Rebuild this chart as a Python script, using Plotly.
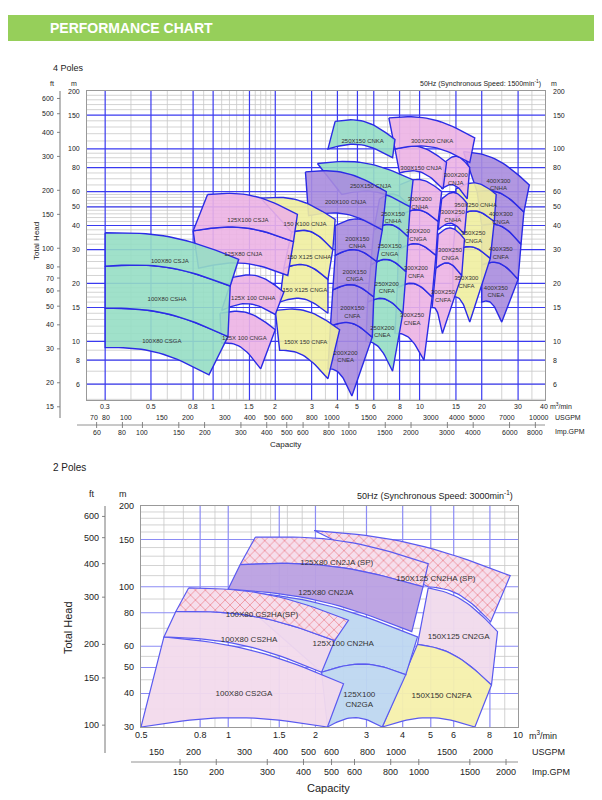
import numpy as np
import plotly.graph_objects as go

W, H = 602, 800
# ---------------- data: 4 poles ----------------
# corners (Q m3/min, H m): top-left, top-right, bottom-right, bottom-left
p4_names = ["100X80 CSJA", "100X80 CSHA", "100X80 CSGA",
            "125X100 CSJA", "125X80 CNJA", "125X 100 CNHA", "125X 100 CNGA",
            "150 X100 CNJA", "150 X125 CNHA", "150 X125 CNGA", "150X 150 CNFA",
            "200X100 CNJA", "200X150<br>CNHA", "200X150<br>CNGA", "200X150<br>CNFA", "200X200<br>CNEA",
            "250X150 CNKA", "250X150 CNJA", "250X150<br>CNHA", "250X150<br>CNGA", "250X200<br>CNFA", "250X200<br>CNEA",
            "300X200 CNKA", "300X150 CNJA", "300X200<br>CNJA", "300X200<br>CNHA", "300X250<br>CNHA",
            "300X200<br>CNGA", "300X250<br>CNGA", "300X200<br>CNFA", "300X250<br>CNFA", "300X250<br>CNEA",
            "350X250 CNHA", "350X250<br>CNGA", "350X300<br>CNFA",
            "400X300<br>CNHA", "400X300<br>CNGA", "400X350<br>CNFA", "400X350<br>CNEA"]
p4_corners = [
    [(0.30, 36.7), (1.33, 26.7), (1.21, 19.4), (0.30, 24.6)],
    [(0.30, 24.6), (1.21, 19.4), (1.18, 10.6), (0.30, 14.9)],
    [(0.30, 14.9), (1.18, 10.6), (0.955, 6.7), (0.30, 9.3)],
    [(0.94, 58), (2.56, 45.7), (2.45, 33), (0.80, 37.5)],
    [(0.80, 37.5), (2.45, 33), (2.3, 22), (0.85, 24)],
    [(1.24, 21.5), (2.2, 18), (2.0, 13.8), (1.1, 14.5)],
    [(1.08, 14.0), (2.0, 11.5), (1.7, 7.2), (1.1, 9.8)],
    [(1.70, 55.5), (3.9, 43), (3.8, 30), (2.4, 37)],
    [(2.4, 37), (3.8, 30), (3.6, 21), (2.2, 24)],
    [(2.2, 24), (3.6, 21), (3.6, 14), (2.1, 16)],
    [(2.0, 14.5), (4.1, 11.5), (3.6, 6.4), (2.1, 9)],
    [(2.8, 76), (6.9, 60), (6.6, 38), (2.9, 45)],
    [(3.9, 40), (6.6, 38), (6.2, 26), (3.9, 28)],
    [(3.9, 28), (6.2, 26), (6.0, 17), (3.8, 18.5)],
    [(3.8, 18.5), (6.0, 17), (5.9, 10.5), (3.7, 12)],
    [(3.7, 12), (5.9, 10.5), (4.7, 5.2), (3.6, 7.2)],
    [(3.9, 139), (7.6, 112), (7.4, 90), (3.6, 100)],
    [(3.2, 84), (9.3, 69), (9.0, 50), (4.2, 58)],
    [(6.4, 55), (9.0, 50), (8.8, 35), (6.0, 38)],
    [(6.0, 38), (8.8, 35), (8.6, 23), (5.8, 25)],
    [(5.8, 25), (8.6, 23), (8.3, 14), (5.6, 16)],
    [(5.6, 16), (8.3, 14), (7.4, 7.0), (5.5, 10)],
    [(7.1, 145), (18.5, 114), (17.5, 85), (7.6, 100)],
    [(7.6, 100), (13.5, 85), (13.0, 62), (8.0, 75)],
    [(13.2, 85), (17.5, 80), (17.0, 55), (12.8, 62)],
    [(8.0, 65), (12.8, 60), (12.3, 42), (8.0, 45)],
    [(12.8, 55), (17.0, 52), (16.5, 36), (12.3, 38)],
    [(8.0, 45), (12.3, 42), (12.0, 28), (7.9, 30)],
    [(12.3, 36), (16.5, 34), (16.0, 22), (12.0, 24)],
    [(7.9, 30), (12.0, 28), (11.5, 17), (7.8, 19)],
    [(12.0, 24), (16.0, 22), (12.9, 11), (11.5, 15)],
    [(7.8, 19), (11.5, 17), (10.5, 8.0), (7.6, 11)],
    [(15.0, 62), (23.5, 58), (23.0, 42), (15.0, 44)],
    [(15.0, 44), (23.0, 42), (22.0, 27), (14.5, 29)],
    [(14.5, 29), (22.0, 27), (17.5, 12.6), (14.5, 17)],
    [(16.3, 97), (34.0, 65), (32.0, 47), (19.0, 60)],
    [(19.0, 60), (32.0, 47), (31.0, 32), (20.0, 40)],
    [(20.0, 40), (31.0, 32), (30.0, 21), (20.0, 25)],
    [(20.0, 25), (30.0, 21), (25.0, 12.6), (20.0, 16)],
]
p4_group = [0]*3 + [1]*4 + [2]*4 + [3]*5 + [0]*6 + [1]*10 + [2]*3 + [3]*4
group_colors = ["rgba(150,222,196,0.9)", "rgba(236,178,228,0.9)",
                "rgba(240,238,160,0.9)", "rgba(168,140,222,0.9)"]

# ---------------- data: 2 poles ----------------
p2_names = ["150X125 CN2HA (SP)", "150X125 CN2GA", "150X150 CN2FA",
            "125X100 CN2HA", "125X100<br>CN2GA", "125X80 CN2JA (SP)", "125X80 CN2JA",
            "100X80 CS2GA", "100X80 CS2HA", "100X80 CS2HA(SP)"]
p2_corners = [
    [(1.98, 162), (9.4, 110), (8.05, 74), (4.9, 100)],
    [(4.9, 99), (8.5, 68), (8.1, 43), (4.5, 61)],
    [(4.5, 61), (8.1, 43), (7.1, 30), (3.4, 30)],
    [(1.0, 97), (4.5, 65), (4.1, 47), (2.1, 48)],
    [(2.1, 48), (4.1, 47), (3.4, 30), (2.2, 30)],
    [(1.24, 153), (4.9, 122), (4.7, 100), (1.1, 121)],
    [(1.1, 121), (4.7, 100), (4.3, 68), (1.0, 98)],
    [(0.60, 65), (2.5, 43.5), (2.2, 30), (0.5, 30)],
    [(0.66, 81), (2.33, 63), (2.1, 48), (0.60, 65)],
    [(0.73, 99), (2.6, 75), (2.33, 63), (0.66, 81)],
]
p2_colors = ["rgba(246,222,236,1)", "rgba(240,218,236,0.95)", "rgba(246,240,172,0.95)",
             "rgba(190,215,240,0.95)", "rgba(190,215,240,0.95)", "rgba(246,222,236,1)",
             "rgba(186,160,226,0.95)", "rgba(242,218,236,0.95)", "rgba(242,218,236,0.95)",
             "rgba(246,222,236,1)"]
p2_hatched = [True, False, False, False, False, True, False, False, False, True]

# axis tick labels
m4 = [200, 150, 100, 80, 60, 50, 40, 30, 20, 15, 10, 8, 6]
ft4 = [600, 500, 400, 300, 200, 150, 100, 80, 70, 60, 50, 40, 30, 20, 15]
q4 = [0.3, 0.5, 0.8, 1, 1.5, 2, 3, 4, 5, 6, 8, 10, 15, 20, 30, 40]
us4 = [70, 80, 100, 150, 200, 300, 400, 500, 600, 800, 1000, 1500, 2000, 3000, 4000, 5000, 7000, 10000]
imp4 = [60, 80, 100, 150, 200, 300, 400, 500, 600, 800, 1000, 1500, 2000, 3000, 4000, 6000, 8000]
m2 = [200, 150, 100, 80, 60, 50, 40, 30]
ft2 = [600, 500, 400, 300, 200, 150, 100]
q2 = [0.5, 0.8, 1, 1.5, 2, 3, 4, 5, 6, 8, 10]
us2 = [150, 200, 300, 400, 500, 600, 800, 1000, 1500, 2000]
imp2 = [150, 200, 300, 400, 500, 600, 800, 1000, 1500, 2000]

FT = 0.3048; USG = 0.003785; IMPG = 0.004546

# ---------------- layout geometry ----------------
def P(x, y):
    return x / W, 1 - y / H

top = dict(x0=79, x1=537, y0=83, y1=392, xr=(0.245, 40.5), yr=(4.96, 200))
bot = dict(x0=133, x1=510, y0=498, y1=719, xr=(0.5, 10), yr=(30, 200))

def mapper(g):
    lx0, lx1 = np.log10(g["xr"]); ly0, ly1 = np.log10(g["yr"])
    fx = lambda q: g["x0"] + (np.log10(q) - lx0) / (lx1 - lx0) * (g["x1"] - g["x0"])
    fy = lambda h: g["y1"] - (np.log10(h) - ly0) / (ly1 - ly0) * (g["y1"] - g["y0"])
    return fx, fy

fig = go.Figure()

def curve(a, b, bulge, n=24):
    t = np.linspace(0, 1, n)
    lx = np.log10(a[0]) + (np.log10(b[0]) - np.log10(a[0])) * t
    ly = np.log10(a[1]) + (np.log10(b[1]) - np.log10(a[1])) * t + bulge * np.sin(np.pi * t)
    return list(10 ** lx), list(10 ** ly)

def poly(c, bulge):
    x1, y1 = curve(c[0], c[1], bulge)
    x2, y2 = curve(c[3], c[2], bulge)
    xs = x1 + x2[::-1] + [c[0][0]]
    ys = y1 + y2[::-1] + [c[0][1]]
    return xs, ys

EDGE = "#2b2be6"
for i in reversed(range(len(p4_names))):
    xs, ys = poly(p4_corners[i], 0.045)
    fig.add_trace(go.Scatter(x=xs, y=ys, xaxis="x", yaxis="y", mode="lines", fill="toself",
                             fillcolor=group_colors[p4_group[i]], line=dict(color=EDGE, width=1.4),
                             hoverinfo="skip", showlegend=False))
for i, nm in enumerate(p4_names):
    c = np.log10(np.array(p4_corners[i]))
    cx, cy = 10 ** c[:, 0].mean(), 10 ** c[:, 1].mean()
    fig.add_trace(go.Scatter(x=[cx], y=[cy], xaxis="x", yaxis="y", mode="text", text=[nm],
                             textfont=dict(size=6, color="#333"), hoverinfo="skip", showlegend=False))

for i in range(len(p2_names)):
    xs, ys = poly(p2_corners[i], 0.035)
    kw = {}
    if p2_hatched[i]:
        kw["fillpattern"] = dict(shape="x", fgcolor="rgba(230,60,70,0.9)", bgcolor=p2_colors[i], size=7, solidity=0.25)
    fig.add_trace(go.Scatter(x=xs, y=ys, xaxis="x2", yaxis="y2", mode="lines", fill="toself",
                             fillcolor=p2_colors[i], line=dict(color="#5a5af0", width=1.2),
                             hoverinfo="skip", showlegend=False, **kw))
for i, nm in enumerate(p2_names):
    c = np.log10(np.array(p2_corners[i]))
    cx, cy = 10 ** c[:, 0].mean(), 10 ** c[:, 1].mean()
    fig.add_trace(go.Scatter(x=[cx], y=[cy], xaxis="x2", yaxis="y2", mode="text", text=[nm],
                             textfont=dict(size=8, color="#333"), hoverinfo="skip", showlegend=False))

shapes = []
def grid(g, xa, ya, xmaj, xmin, ymaj, ymin, majc):
    for v in xmin:
        shapes.append(dict(type="line", xref=xa, yref=ya + " domain", x0=v, x1=v, y0=0, y1=1,
                           line=dict(color="#c8c8c8", width=0.8), layer="below"))
    for v in ymin:
        shapes.append(dict(type="line", yref=ya, xref=xa + " domain", y0=v, y1=v, x0=0, x1=1,
                           line=dict(color="#c8c8c8", width=0.8), layer="below"))
    for v in xmaj:
        shapes.append(dict(type="line", xref=xa, yref=ya + " domain", x0=v, x1=v, y0=0, y1=1,
                           line=dict(color=majc, width=1.2), layer="below"))
    for v in ymaj:
        shapes.append(dict(type="line", yref=ya, xref=xa + " domain", y0=v, y1=v, x0=0, x1=1,
                           line=dict(color=majc, width=1.2), layer="below"))

xmin4 = [0.4, 0.6, 0.7, 0.9] + [round(1 + 0.1 * k, 1) for k in range(1, 10) if k != 5] + \
        [2.5, 3.5, 4.5, 5.5, 7, 9, 12, 14, 25, 35]
ymin4 = list(range(5, 20)) + list(range(22, 60, 2)) + [65, 70, 75, 85, 90, 95, 110, 120, 130, 140, 160, 170, 180, 190]
grid("x", "x", "y", [0.3, 0.5, 0.8, 1, 1.5, 2, 3, 4, 5, 6, 8, 10, 15, 20, 30],
     xmin4, [6, 8, 10, 15, 20, 30, 40, 50, 60, 80, 100, 150], ymin4, "#3a3af0")
xmin2 = [0.6, 0.7, 0.9, 1.2, 1.4, 1.6, 1.8, 2.5, 7, 9]
ymin2 = [35, 45, 55, 70, 90, 110, 120, 130, 140, 160, 170, 180, 190]
grid("x2", "x2", "y2", [0.8, 1, 1.5, 2, 3, 4, 5, 6, 8],
     xmin2, [40, 50, 60, 80, 100, 150], ymin2, "#8c8cf5")

shapes.append(dict(type="rect", xref="paper", yref="paper", x0=0, x1=1, y0=P(0, 33)[1], y1=P(0, 7)[1],
                   fillcolor="#96cf5a", line=dict(width=0)))

ann = []
def T(x, y, s, size=8, xa="center", ya="middle", color="#222", angle=0, **kw):
    px, py = P(x, y)
    ann.append(dict(x=px, y=py, xref="paper", yref="paper", text=s, showarrow=False,
                    xanchor=xa, yanchor=ya, font=dict(size=size, color=color, family="Arial, Liberation Sans"),
                    textangle=angle, **kw))

T(40, 20, "<b>PERFORMANCE CHART</b>", 14, "left", color="white")

def axes_text(g, mt, ft, qt, us, imp, cfg):
    fx, fy = mapper(g)
    s = cfg["s"]
    for v in mt:
        T(g["x0"] - 5, fy(v), str(v), s, "right")
        if cfg["right"]:
            T(g["x1"] + 6, fy(v), str(v), s, "left")
    for v in ft:
        y = fy(v * FT)
        T(cfg["ftx"] - 4, y, str(v), s, "right")
        shapes.append(dict(type="line", xref="paper", yref="paper", x0=P(cfg["ftx"] - 3, 0)[0],
                           x1=P(cfg["ftx"], 0)[0], y0=P(0, y)[1], y1=P(0, y)[1], line=dict(color="#666", width=0.8)))
    shapes.append(dict(type="line", xref="paper", yref="paper", x0=P(cfg["ftx"], 0)[0], x1=P(cfg["ftx"], 0)[0],
                       y0=P(0, g["y0"])[1], y1=P(0, cfg["ftbot"])[1], line=dict(color="#777", width=1)))
    for v in qt:
        T(fx(v), cfg["qy"], str(v), s)
    for v in us:
        x = fx(v * USG)
        if g["x0"] - 15 < x < g["x1"] + 5:
            T(x, cfg["usy"], str(v), s)
    for v in imp:
        x = fx(v * IMPG)
        if g["x0"] - 15 < x < g["x1"] + 5:
            T(x, cfg["impy"], str(v), s)
            shapes.append(dict(type="line", xref="paper", yref="paper", x0=P(x, 0)[0], x1=P(x, 0)[0],
                               y0=P(0, cfg["impline"] - 3)[1], y1=P(0, cfg["impline"] + 3)[1],
                               line=dict(color="#666", width=0.8)))
    shapes.append(dict(type="line", xref="paper", yref="paper", x0=P(g["x0"] - 10, 0)[0], x1=P(g["x1"], 0)[0],
                       y0=P(0, cfg["impline"])[1], y1=P(0, cfg["impline"])[1], line=dict(color="#777", width=0.8)))

axes_text(top, m4, ft4, q4, us4, imp4,
          dict(s=7, right=True, ftx=52, ftbot=410, qy=398, usy=410, impy=424, impline=417))
axes_text(bot, m2, ft2, q2, us2, imp2,
          dict(s=9, right=False, ftx=97, ftbot=745, qy=727, usy=744, impy=764, impline=754))

T(43, 60, "4 Poles", 9, "left")
T(44, 75, "ft", 7); T(66, 75, "m", 7); T(546, 75, "m", 7)
T(535, 75, "50Hz (Synchronous Speed: 1500min<sup>-1</sup>)", 7, "right")
T(540, 398, "m<sup>3</sup>/min", 7, "left"); T(545, 410, "USGPM", 7, "left"); T(545, 424, "Imp.GPM", 7, "left")
T(277, 436, "Capacity", 8); T(28, 233, "Total Head", 8, angle=-90)

T(43, 460, "2 Poles", 10, "left")
T(84, 486, "ft", 9); T(115, 486, "m", 9)
T(507, 487, "50Hz (Synchronous Speed: 3000min<sup>-1</sup>)", 9, "right")
T(519, 727, "m<sup>3</sup>/min", 9, "left"); T(522, 744, "USGPM", 9, "left"); T(522, 764, "Imp.GPM", 9, "left")
T(320, 780, "Capacity", 11); T(60, 620, "Total Head", 11, angle=-90)

def ax(g, anchor):
    return dict(type="log", range=list(np.log10(g["xr"])), showgrid=False, showticklabels=False,
                zeroline=False, showline=True, linecolor="#999", mirror=True, anchor=anchor,
                domain=[g["x0"] / W, g["x1"] / W], fixedrange=True)
def ay(g, anchor):
    return dict(type="log", range=list(np.log10(g["yr"])), showgrid=False, showticklabels=False,
                zeroline=False, showline=True, linecolor="#999", mirror=True, anchor=anchor,
                domain=[1 - g["y1"] / H, 1 - g["y0"] / H], fixedrange=True)

fig.update_layout(width=W, height=H, margin=dict(l=0, r=0, t=0, b=0),
                  paper_bgcolor="white", plot_bgcolor="white",
                  xaxis=ax(top, "y"), yaxis=ay(top, "x"),
                  xaxis2=ax(bot, "y2"), yaxis2=ay(bot, "x2"),
                  shapes=shapes, annotations=ann, font=dict(family="Arial, Liberation Sans"))
fig.write_html("out.html")
